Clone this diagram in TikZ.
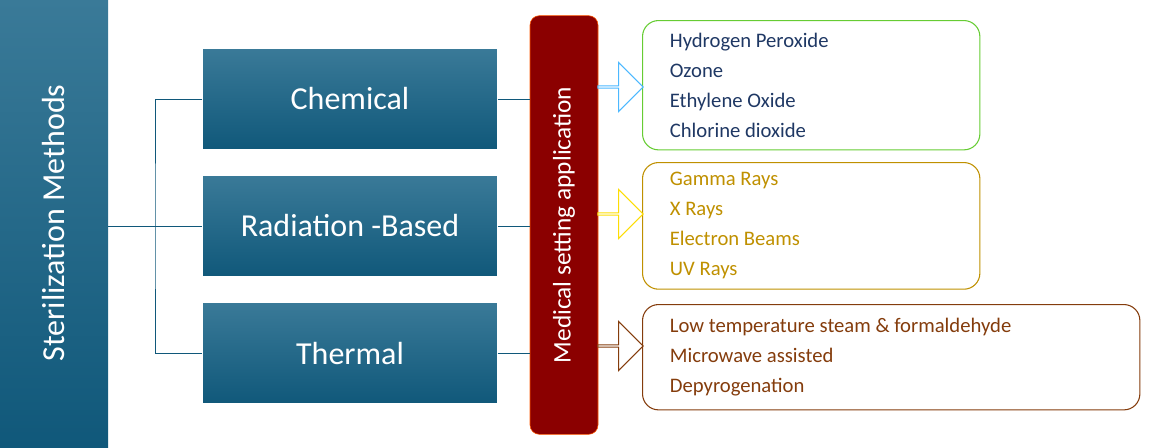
\documentclass[tikz,border=0pt]{standalone}
\usepackage{fontspec}
\setmainfont{Carlito}
\usepackage{tikz}
\usetikzlibrary{shapes.arrows}
\definecolor{steelblue}{RGB}{16,88,122}
\definecolor{steellight}{RGB}{58,122,152}
\definecolor{medred}{RGB}{139,0,0}
\definecolor{listblue}{RGB}{31,56,100}
\definecolor{listgold}{RGB}{191,144,0}
\definecolor{listbrown}{RGB}{132,60,12}

\begin{document}
\begin{tikzpicture}[x=0.75pt,y=-0.75pt,
    method/.style={draw=white,top color=steellight,bottom color=steelblue,text=white,
      minimum width=221pt,minimum height=76pt,font=\fontsize{24}{28}\selectfont},
    listbox/.style={draw,thick,rounded corners=12pt,align=left,anchor=north west,
      inner sep=0pt,font=\fontsize{15.5}{22.5}\selectfont},
    hollow/.style={single arrow,draw,thick,fill=white,minimum width=37pt,
      single arrow head extend=9pt,minimum height=34pt,inner sep=0pt},
    link/.style={draw=steelblue,thin}]

    \useasboundingbox (0,0) rectangle (1155,447);

    % left title bar
    \fill[top color=steellight,bottom color=steelblue] (0,0) rectangle (108,447);
    \node[rotate=90,text=white,font=\fontsize{24}{28}\selectfont] (title) at (54,223) {Sterilization Methods};

    % method boxes
    \node[method] (chem) at (350,99) {Chemical};
    \node[method] (rad) at (350,226) {Radiation -Based};
    \node[method] (therm) at (350,353) {Thermal};

    % medical bar
    \node[draw=orange!70!red,fill=medred,rounded corners=7pt,minimum width=51pt,minimum height=314pt,
      inner sep=0pt] (med) at (564,225) {};
    \node[rotate=90,text=white,font=\fontsize{19}{22}\selectfont] at (med.center) {Medical setting application};

    % tree links
    \coordinate (fork) at (155,226);
    \draw[link] (108,226) -- (fork);
    \draw[link] (chem.west) -| (fork) |- (therm.west);
    \draw[link] (fork) -- (rad.west);
    \draw[link] (chem.east) -- (chem.east -| med.west);
    \draw[link] (rad.east) -- (rad.east -| med.west);
    \draw[link] (therm.east) -- (therm.east -| med.west);

    % lists
    \node[listbox,draw=green!50!olive!80,text=listblue,minimum width=253pt,minimum height=97pt] (chemlist) at (642,20)
      {\hspace{18pt}\parbox[c][97pt][c]{230pt}{Hydrogen Peroxide\\Ozone\\Ethylene Oxide\\Chlorine dioxide}};
    \node[listbox,draw=listgold,text=listgold,minimum width=253pt,minimum height=95pt] (radlist) at (642,162)
      {\hspace{18pt}\parbox[c][95pt][c]{230pt}{Gamma Rays\\X Rays\\Electron Beams\\UV Rays}};
    \node[listbox,draw=listbrown,text=listbrown,minimum width=373pt,minimum height=79pt] (thermlist) at (642,304)
      {\hspace{18pt}\parbox[c][79pt][c]{350pt}{Low temperature steam \& formaldehyde\\Microwave assisted\\Depyrogenation}};

    % hollow arrows
    \node[hollow,draw=blue!40!cyan!70] at (620,87) {};
    \node[hollow,draw=yellow!80!orange] at (620,214) {};
    \node[hollow,draw=listbrown] at (620,346) {};

\end{tikzpicture}
\end{document}
